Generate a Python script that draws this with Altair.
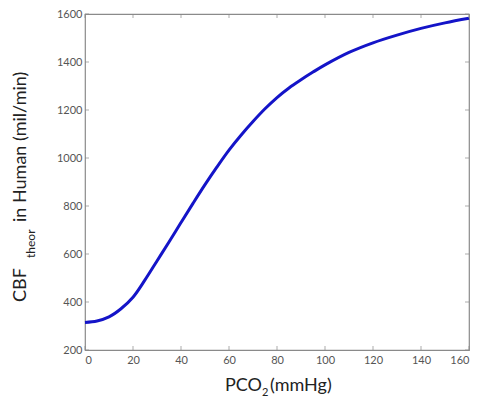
import altair as alt
import pandas as pd

pco2 = [0, 5, 10, 15, 20, 25, 30, 35, 40, 45, 50, 55, 60, 65, 70, 75, 80, 85, 90, 95, 100, 110, 120, 130, 140, 150, 160]
cbf = [315, 321, 338, 372, 420, 492, 571, 650, 731, 811, 889, 963, 1033, 1095, 1152, 1205, 1252, 1292, 1326, 1358, 1388, 1440, 1480, 1512, 1540, 1563, 1582]
x_ticks = [0, 20, 40, 60, 80, 100, 120, 140, 160]
y_ticks = [200, 400, 600, 800, 1000, 1200, 1400, 1600]

W, H = 384, 336
FONT = "Lato"
GRAY = "#8a8a8a"

df = pd.DataFrame({"x": pco2, "y": cbf})
xt = pd.DataFrame({"x": x_ticks})
yt = pd.DataFrame({"y": y_ticks})

xs = alt.Scale(domain=[0, 160], nice=False)
ys = alt.Scale(domain=[200, 1600], nice=False)

line = alt.Chart(df).mark_line(color="#1414c8", strokeWidth=3, interpolate="catmull-rom").encode(
    x=alt.X("x:Q", scale=xs, axis=alt.Axis(values=x_ticks, format="d", ticks=False, domain=False, grid=False,
                                           title=None, labelColor="#555", labelFontSize=11,
                                           labelFont=FONT, labelPadding=4)),
    y=alt.Y("y:Q", scale=ys, axis=alt.Axis(values=y_ticks, format="d", ticks=False, domain=False, grid=False,
                                           title=None, labelColor="#555", labelFontSize=11,
                                           labelFont=FONT, labelPadding=3)),
)

tick_bottom = alt.Chart(xt).mark_tick(orient="vertical", color=GRAY, size=4, thickness=1).encode(
    x=alt.X("x:Q", scale=xs), y=alt.value(H - 2))
tick_top = alt.Chart(xt).mark_tick(orient="vertical", color=GRAY, size=4, thickness=1).encode(
    x=alt.X("x:Q", scale=xs), y=alt.value(2))
tick_left = alt.Chart(yt).mark_tick(orient="horizontal", color=GRAY, size=4, thickness=1).encode(
    y=alt.Y("y:Q", scale=ys), x=alt.value(2))
tick_right = alt.Chart(yt).mark_tick(orient="horizontal", color=GRAY, size=4, thickness=1).encode(
    y=alt.Y("y:Q", scale=ys), x=alt.value(W - 2))

def txt(s, x, y, size, angle=0, align="left"):
    return alt.Chart(pd.DataFrame({"t": [s]})).mark_text(
        font=FONT, fontSize=size, color="#222", align=align, baseline="alphabetic", angle=angle
    ).encode(text="t:N", x=alt.value(x), y=alt.value(y))

# x title: PCO2(mmHg) with subscript
xt1 = txt("PCO", 140, 377, 18)
xt2 = txt("2", 177, 382, 11)
xt3 = txt("(mmHg)", 185, 377, 18)

# y title: CBF_theor in Human (mil/min)
yt1 = txt("CBF", -59, 288, 18, angle=270)
yt2 = txt("theor", -50, 244, 12, angle=270)
yt3 = txt("in Human (mil/min)", -59, 208, 18, angle=270)

chart = alt.layer(line, tick_bottom, tick_top, tick_left, tick_right,
                  xt1, xt2, xt3, yt1, yt2, yt3).properties(
    width=W, height=H,
    autosize=alt.AutoSizeParams(type="none"),
    padding={"left": 77, "top": 6, "right": 1, "bottom": 47},
).configure_view(stroke=GRAY, strokeWidth=1.2)

chart.save("out.html", embed_options={"renderer": "svg", "actions": False})
